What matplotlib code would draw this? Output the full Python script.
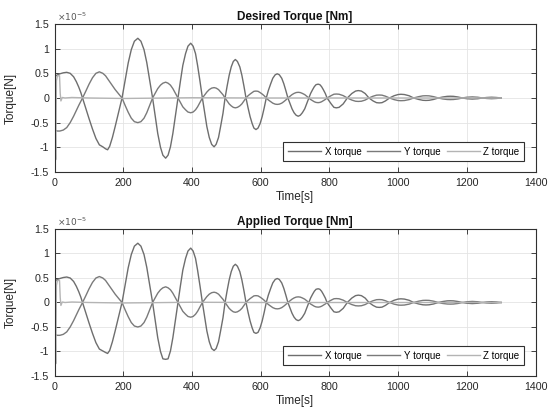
#!/usr/bin/env python3
"""Desired vs applied torque, redrawn from a MATLAB-style figure."""

import matplotlib

matplotlib.use("Agg")
import matplotlib.pyplot as plt
from matplotlib.ticker import FuncFormatter

# values are in units of 1e-5 N
t_xy = [
    0, 3, 8, 15, 25, 35, 45, 55, 63, 70, 76,
    81, 90, 100, 110, 120, 130, 140, 148, 154, 160, 168, 176, 184, 190,
    196, 205, 214, 223, 232, 242, 251, 260, 268, 276,
    285, 293, 300, 308, 315, 323, 330, 337, 344, 351,
    359, 366, 373, 381, 388, 396, 403, 410, 416, 423,
    430, 437, 443, 450, 457, 464, 470, 477, 483, 490,
    496, 502, 508, 514, 520, 526, 532, 539, 545, 551,
    557, 563, 569, 575, 580, 586, 592, 598, 604, 610,
    616, 622, 629, 635, 642, 648, 654, 661, 667, 673,
    679, 685, 691, 697, 703, 709, 715, 721, 728, 734,
    740, 745, 751, 756, 761, 767, 772, 777, 782, 788,
    793, 805, 813, 820, 828, 840,
    852, 865, 876, 884, 893, 904,
    915, 927, 937, 945, 953, 963,
    975, 988, 1000, 1008, 1018, 1032,
    1045, 1060, 1072, 1081, 1090, 1103,
    1117, 1130, 1143, 1152, 1161, 1174,
    1187, 1200, 1216, 1232,
    1245, 1258, 1272, 1286, 1300,
]

x_desired = [
    0.35, 0.45, 0.47, 0.49, 0.51, 0.52, 0.50, 0.43, 0.33, 0.22, 0.11,
    0.0, -0.2, -0.42, -0.63, -0.82, -0.95, -0.99, -1.03, -1.05, -0.98, -0.8, -0.58, -0.35, -0.18,
    0.0, 0.36, 0.71, 0.98, 1.15, 1.21, 1.15, 0.98, 0.72, 0.38,
    0.0, -0.38, -0.72, -1.0, -1.16, -1.22, -1.16, -0.99, -0.72, -0.38,
    0.0, 0.34, 0.66, 0.9, 1.05, 1.11, 1.05, 0.9, 0.66, 0.34,
    0.0, -0.31, -0.58, -0.8, -0.94, -0.99, -0.94, -0.8, -0.58, -0.31,
    0.0, 0.24, 0.46, 0.63, 0.74, 0.78, 0.74, 0.63, 0.46, 0.24,
    0.0, -0.2, -0.38, -0.52, -0.61, -0.64, -0.61, -0.52, -0.38, -0.2,
    0.0, 0.15, 0.29, 0.4, 0.47, 0.49, 0.47, 0.4, 0.29, 0.15,
    0.0, -0.11, -0.22, -0.3, -0.35, -0.37, -0.35, -0.3, -0.22, -0.11,
    0.0, 0.09, 0.17, 0.23, 0.27, 0.28, 0.27, 0.23, 0.17, 0.09,
    0.0, -0.12, -0.19, -0.2, -0.19, -0.12,
    0.0, 0.09, 0.14, 0.15, 0.14, 0.09,
    0.0, -0.06, -0.095, -0.1, -0.095, -0.06,
    0.0, 0.045, 0.07, 0.075, 0.07, 0.045,
    0.0, -0.03, -0.047, -0.05, -0.047, -0.03,
    0.0, 0.02, 0.033, 0.035, 0.033, 0.02,
    0.0, -0.015, -0.022, -0.015,
    0.0, 0.01, 0.015, 0.01, 0.0,
]

# applied torque saturates around the -1.15 trough near t = 320 s
x_applied = [
    0.35, 0.45, 0.47, 0.49, 0.51, 0.52, 0.50, 0.43, 0.33, 0.22, 0.11,
    0.0, -0.2, -0.42, -0.63, -0.82, -0.95, -0.99, -1.02, -1.04, -0.98, -0.8, -0.58, -0.35, -0.18,
    0.0, 0.36, 0.71, 0.98, 1.15, 1.21, 1.15, 0.98, 0.72, 0.38,
    0.0, -0.38, -0.72, -1.0, -1.15, -1.16, -1.15, -0.99, -0.72, -0.38,
    0.0, 0.34, 0.66, 0.9, 1.05, 1.11, 1.05, 0.9, 0.66, 0.34,
    0.0, -0.31, -0.58, -0.8, -0.94, -0.98, -0.94, -0.8, -0.58, -0.31,
    0.0, 0.24, 0.46, 0.63, 0.74, 0.78, 0.74, 0.63, 0.46, 0.24,
    0.0, -0.2, -0.38, -0.52, -0.61, -0.63, -0.61, -0.52, -0.38, -0.2,
    0.0, 0.15, 0.29, 0.4, 0.47, 0.49, 0.47, 0.4, 0.29, 0.15,
    0.0, -0.11, -0.22, -0.3, -0.35, -0.37, -0.35, -0.3, -0.22, -0.11,
    0.0, 0.09, 0.17, 0.23, 0.27, 0.28, 0.27, 0.23, 0.17, 0.09,
    0.0, -0.12, -0.19, -0.2, -0.19, -0.12,
    0.0, 0.09, 0.14, 0.15, 0.14, 0.09,
    0.0, -0.06, -0.095, -0.1, -0.095, -0.06,
    0.0, 0.045, 0.07, 0.075, 0.07, 0.045,
    0.0, -0.03, -0.047, -0.05, -0.047, -0.03,
    0.0, 0.02, 0.033, 0.035, 0.033, 0.02,
    0.0, -0.015, -0.022, -0.015,
    0.0, 0.01, 0.015, 0.01, 0.0,
]

y_torque = [
    -0.65, -0.66, -0.67, -0.67, -0.65, -0.6, -0.5, -0.37, -0.25, -0.15, -0.07,
    0.0, 0.13, 0.28, 0.41, 0.5, 0.53, 0.5, 0.45, 0.39, 0.33, 0.25, 0.17, 0.1, 0.05,
    0.0, -0.15, -0.29, -0.41, -0.48, -0.5, -0.48, -0.41, -0.3, -0.16,
    0.0, 0.1, 0.19, 0.26, 0.3, 0.32, 0.3, 0.26, 0.19, 0.1,
    0.0, -0.09, -0.18, -0.24, -0.285, -0.3, -0.285, -0.24, -0.18, -0.09,
    0.0, 0.065, 0.12, 0.17, 0.2, 0.21, 0.2, 0.17, 0.12, 0.065,
    0.0, -0.06, -0.12, -0.16, -0.19, -0.2, -0.19, -0.16, -0.12, -0.06,
    0.0, 0.045, 0.08, 0.11, 0.135, 0.14, 0.135, 0.11, 0.08, 0.045,
    0.0, -0.04, -0.075, -0.105, -0.125, -0.13, -0.125, -0.105, -0.075, -0.04,
    0.0, 0.035, 0.068, 0.093, 0.11, 0.115, 0.11, 0.093, 0.068, 0.035,
    0.0, -0.03, -0.056, -0.077, -0.09, -0.095, -0.09, -0.077, -0.056, -0.03,
    0.0, 0.048, 0.076, 0.08, 0.076, 0.048,
    0.0, -0.042, -0.066, -0.07, -0.066, -0.042,
    0.0, 0.036, 0.057, 0.06, 0.057, 0.036,
    0.0, -0.033, -0.052, -0.055, -0.052, -0.033,
    0.0, 0.027, 0.043, 0.045, 0.043, 0.027,
    0.0, -0.02, -0.031, -0.033, -0.031, -0.02,
    0.0, 0.015, 0.022, 0.015,
    0.0, -0.01, -0.015, -0.01, 0.0,
]

t_z = [0, 2, 3, 5, 8, 14, 16, 18, 22, 30, 50, 100, 200, 400, 600, 800, 1000, 1300]
z_torque = [0.0, -0.8, -1.25, 0.35, 0.45, 0.45, 0.1, -0.06, 0.01, 0.0, 0.01,
            0.0, -0.01, 0.005, 0.0, 0.0, 0.0, 0.0]

titles = ["Desired Torque [Nm]", "Applied Torque [Nm]"]
x_series = [x_desired, x_applied]
x_ticks = [0, 200, 400, 600, 800, 1000, 1200, 1400]
y_ticks = [-1.5, -1, -0.5, 0, 0.5, 1, 1.5]

plt.rcParams["font.family"] = ["Liberation Sans", "DejaVu Sans"]
plt.rcParams["axes.unicode_minus"] = False

fig = plt.figure(figsize=(5.51, 4.09), dpi=100)
boxes = [[0.0993, 0.5795, 0.8726, 0.3619], [0.0993, 0.0807, 0.8726, 0.3594]]

for box, title, x_vals in zip(boxes, titles, x_series):
    ax = fig.add_axes(box)
    ax.plot(t_xy, x_vals, color="#6e6e6e", lw=1.0, label="X torque")
    ax.plot(t_xy, y_torque, color="#7a7a7a", lw=1.0, label="Y torque")
    ax.plot(t_z, z_torque, color="#b4b4b4", lw=1.0, label="Z torque")

    ax.set_xlim(0, 1400)
    ax.set_ylim(-1.5, 1.5)
    ax.set_xticks(x_ticks)
    ax.set_yticks(y_ticks)
    ax.yaxis.set_major_formatter(FuncFormatter(lambda v, _: f"{v:g}"))
    ax.tick_params(direction="in", length=3.5, width=0.6, top=True, right=True,
                   labelsize=7.7, colors="#262626", pad=4)
    ax.grid(True, color="#e4e4e4", lw=0.6)
    ax.set_axisbelow(True)
    for spine in ax.spines.values():
        spine.set_color("#303030")
        spine.set_linewidth(0.8)

    ax.set_title(title, fontsize=8.5, fontweight="bold", pad=3, color="#111111")
    ax.set_xlabel("Time[s]", fontsize=8.5, color="#262626")
    ax.set_ylabel("Torque[N]", fontsize=8.5, color="#262626")
    ax.xaxis.set_label_coords(0.5, -0.13)
    ax.yaxis.set_label_coords(-0.078, 0.5)
    ax.text(0.005, 1.008, r"$\times10^{-5}$", transform=ax.transAxes,
            fontsize=6.5, color="#555555", va="bottom", ha="left")

    leg = ax.legend(ncol=3, loc="lower right", bbox_to_anchor=(0.976, 0.074),
                    borderaxespad=0, fontsize=7, frameon=True, fancybox=False,
                    framealpha=1, edgecolor="#303030", handlelength=3.4,
                    handletextpad=0.4, columnspacing=0.6, borderpad=0.45)
    leg.get_frame().set_linewidth(0.8)

fig.savefig("out.png", dpi=100)
